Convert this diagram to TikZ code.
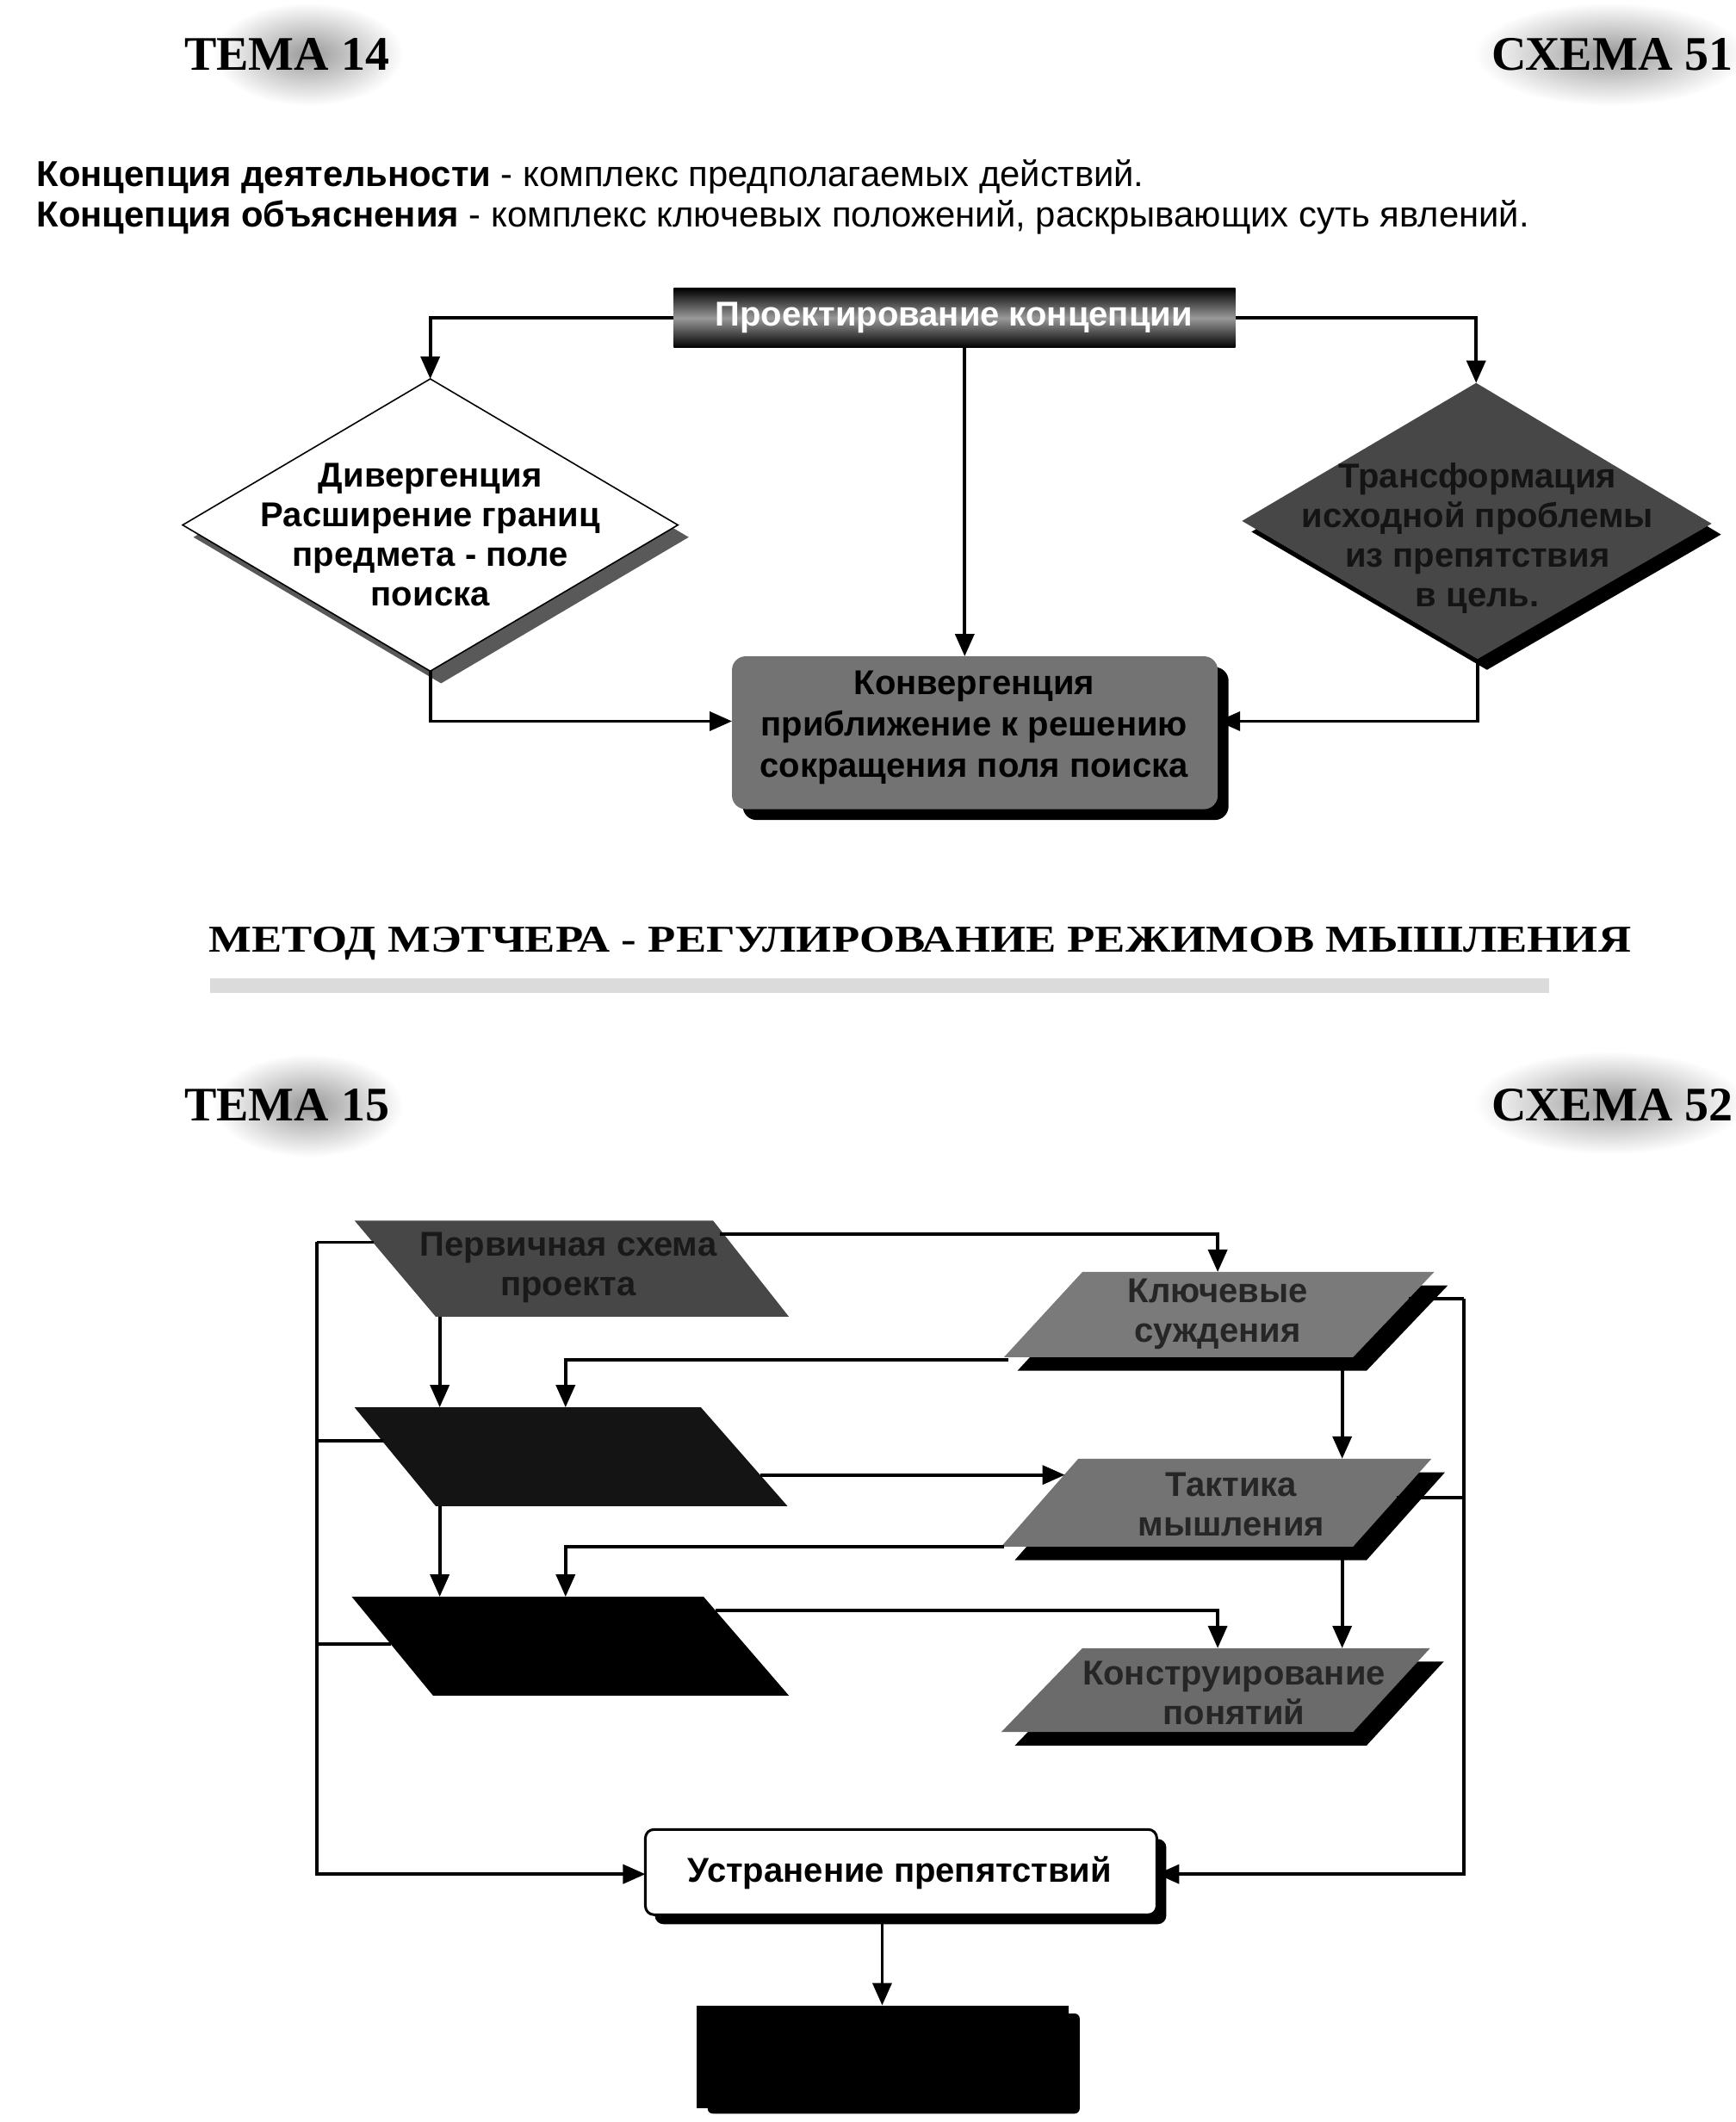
\documentclass[tikz,border=0pt]{standalone}
\usepackage{fontspec}
\setmainfont{Liberation Sans}
\newfontfamily\temafont{Liberation Serif}
\usetikzlibrary{arrows.meta,calc}
\begin{document}
\begin{tikzpicture}[x=1.5713pt,y=-1.5713pt,
  conn/.style={line width=3.8pt},
  arr/.style={conn,-{Triangle[length=26pt,width=22pt]}},
  lbl/.style={font=\fontsize{40}{46}\selectfont\bfseries,align=center,inner sep=0pt},
  deftext/.style={font=\fontsize{41.8}{47}\selectfont,anchor=base west,inner sep=0pt},
  tema/.style={font=\temafont\bfseries\fontsize{56}{56}\selectfont,inner sep=0pt},
  blob/.style={inner color=black!40,outer color=white},
  outline/.style={draw=black,line width=3pt}]
\useasboundingbox (0,0) rectangle (1283,1568.2);
\fill[white] (0,0) rectangle (1283,1568.2);

% ---------- header 1 ----------
\shade[blob] (228,40) ellipse (70 and 38);
\shade[blob] (1190,40) ellipse (100 and 38);
\node[tema] (t14) at (212,40) {ТЕМА 14};
\node[tema,anchor=east] (s51) at (1281,40) {СХЕМА 51};

\node[deftext] (def1) at (27,138) {\textbf{Концепция деятельности} - комплекс предполагаемых действий.};
\node[deftext] (def2) at (27,168) {\textbf{Концепция объяснения} - комплекс ключевых положений, раскрывающих суть явлений.};

% ---------- top diagram ----------
\shade[top color=black,bottom color=black,middle color=black!40] (498,213) rectangle (913,257);
\node[lbl,text=white] (proj) at (705,235) {Проектирование концепции};
\coordinate (projL) at (498,235);
\coordinate (projR) at (913,235);
\coordinate (projB) at (713,257);

% left diamond
\fill[black!65] ($(135,388)+(8,9)$) -- ($(318,280)+(8,9)$) -- ($(501,388)+(8,9)$) -- ($(318,496)+(8,9)$) -- cycle;
\filldraw[fill=white,draw=black,line width=1.6pt] (135,388) -- (318,280) -- (501,388) -- (318,496) -- cycle;
\coordinate (divT) at (318,280);
\coordinate (divB) at (318,496);
\node[lbl] (div) at (318,395) {Дивергенция\\Расширение границ\\предмета - поле\\поиска};

% right diamond
\fill[black] ($(918,385)+(7,8)$) -- ($(1091,283)+(7,8)$) -- ($(1265,387)+(7,8)$) -- ($(1092,487)+(7,8)$) -- cycle;
\fill[black!72] (918,385) -- (1091,283) -- (1265,387) -- (1092,487) -- cycle;
\coordinate (trT) at (1091,283);
\coordinate (trB) at (1092,487);
\node[lbl,text=black!92] (tr) at (1092,398) {Трансформация\\исходной проблемы\\из препятствия\\в цель.};

% convergence box
\fill[black,rounded corners=16pt] (549,493) rectangle (908,606);
\fill[black!55,rounded corners=16pt] (541,485) rectangle (900,598);
\node[lbl,font=\fontsize{40}{48}\selectfont\bfseries] (conv) at (720,538) {Конвергенция\\приближение к решению\\сокращения поля поиска};
\coordinate (convT) at (713,485);
\coordinate (convL) at (541,533);
\coordinate (convR) at (900,533);

\draw[arr] (projL) -| (divT);
\draw[arr] (projR) -| (trT);
\draw[arr] (projB) -- (convT);
\draw[arr] (divB) |- (convL);
\draw[arr] (trB) |- (convR);

% ---------- title ----------
\node[inner sep=0pt,font=\temafont\bfseries\fontsize{44}{44}\selectfont] (title) at (680,697)
  {\scalebox{1.2}[1]{МЕТОД МЭТЧЕРА - РЕГУЛИРОВАНИЕ РЕЖИМОВ МЫШЛЕНИЯ}};
\fill[black!14] (155,723) rectangle (1145,734);

% ---------- header 2 ----------
\shade[blob] (228,817) ellipse (70 and 38);
\shade[blob] (1190,815) ellipse (100 and 38);
\node[tema] (t15) at (212,817) {ТЕМА 15};
\node[tema,anchor=east] (s52) at (1281,817) {СХЕМА 52};

% ---------- bottom diagram ----------
% left column
\fill[black!72] (262,902) -- (527,902) -- (583,973) -- (322,973) -- cycle;
\node[lbl,text=black!90] (p1) at (420,937) {Первичная схема\\проекта};
\fill[black!92] (262,1040) -- (518,1040) -- (582,1113) -- (322,1113) -- cycle;
\coordinate (p2) at (420,1076);
\fill[black] (260,1180) -- (520,1180) -- (583,1253) -- (320,1253) -- cycle;
\coordinate (p3) at (420,1216);

% right column
\fill[black] (810,950) -- (1070,950) -- (1010,1013) -- (752,1013) -- cycle;
\fill[black!52] (800,940) -- (1060,940) -- (1000,1003) -- (742,1003) -- cycle;
\node[lbl,text=black!85] (r1) at (900,971) {Ключевые\\суждения};
\fill[black] (807,1088) -- (1068,1088) -- (1010,1153) -- (750,1153) -- cycle;
\fill[black!55] (797,1078) -- (1058,1078) -- (1000,1143) -- (740,1143) -- cycle;
\node[lbl,text=black!85] (r2) at (910,1112) {Тактика\\мышления};
\fill[black] (810,1228) -- (1067,1228) -- (1010,1290) -- (750,1290) -- cycle;
\fill[black!58] (800,1218) -- (1057,1218) -- (1000,1280) -- (740,1280) -- cycle;
\node[lbl,text=black!85] (r3) at (912,1251) {Конструирование\\понятий};

% obstacle box
\fill[black,rounded corners=10pt] (484,1359) rectangle (862,1422);
\filldraw[fill=white,outline,rounded corners=10pt] (477,1352) rectangle (855,1415);
\node[lbl] (ust) at (665,1384) {Устранение препятствий};
\coordinate (ustL) at (477,1385);
\coordinate (ustR) at (855,1385);
\coordinate (ustB) at (652,1415);

% final box
\fill[black,rounded corners=6pt] (523,1488) rectangle (798,1562);
\fill[black] (515,1482) rectangle (790,1558);
\coordinate (finT) at (652,1482);
\coordinate (fin) at (652,1520);

% connection points
\coordinate (p1W) at (276,918);
\coordinate (p2W) at (283,1065);
\coordinate (p3W) at (289,1215);
\coordinate (p1E) at (532,912);
\coordinate (p1S) at (325,973);
\coordinate (p2N) at (325,1040);
\coordinate (p2Nb) at (418,1040);
\coordinate (p2E) at (562,1090);
\coordinate (p2S) at (325,1113);
\coordinate (p3N) at (325,1180);
\coordinate (p3Nb) at (418,1180);
\coordinate (p3E) at (529,1190);
\coordinate (r1N) at (900,940);
\coordinate (r1E) at (1041,960);
\coordinate (r1SW) at (745,1005);
\coordinate (r1S) at (992,1003);
\coordinate (r2N) at (992,1078);
\coordinate (r2W) at (787,1090);
\coordinate (r2E) at (1032,1107);
\coordinate (r2SW) at (742,1143);
\coordinate (r2S) at (992,1143);
\coordinate (r3N) at (992,1218);
\coordinate (r3Nb) at (900,1218);
\coordinate (oL) at (234,918);
\coordinate (oR) at (1082,960);

\draw[conn] (p1W) -- (oL);
\draw[conn] (p2W) -- (oL |- p2W);
\draw[conn] (p3W) -- (oL |- p3W);
\draw[arr] (oL) |- (ustL);
\draw[conn] (r1E) -- (oR);
\draw[conn] (r2E) -- (oR |- r2E);
\draw[arr] (oR) |- (ustR);

\draw[arr] (p1E) -| (r1N);
\draw[arr] (p1S) -- (p2N);
\draw[arr] (r1SW) -| (p2Nb);
\draw[arr] (r1S) -- (r2N);
\draw[arr] (p2E) -- (r2W);
\draw[arr] (r2SW) -| (p3Nb);
\draw[arr] (p2S) -- (p3N);
\draw[arr] (r2S) -- (r3N);
\draw[arr] (p3E) -| (r3Nb);
\draw[arr] (ustB) -- (finT);
\end{tikzpicture}
\end{document}
